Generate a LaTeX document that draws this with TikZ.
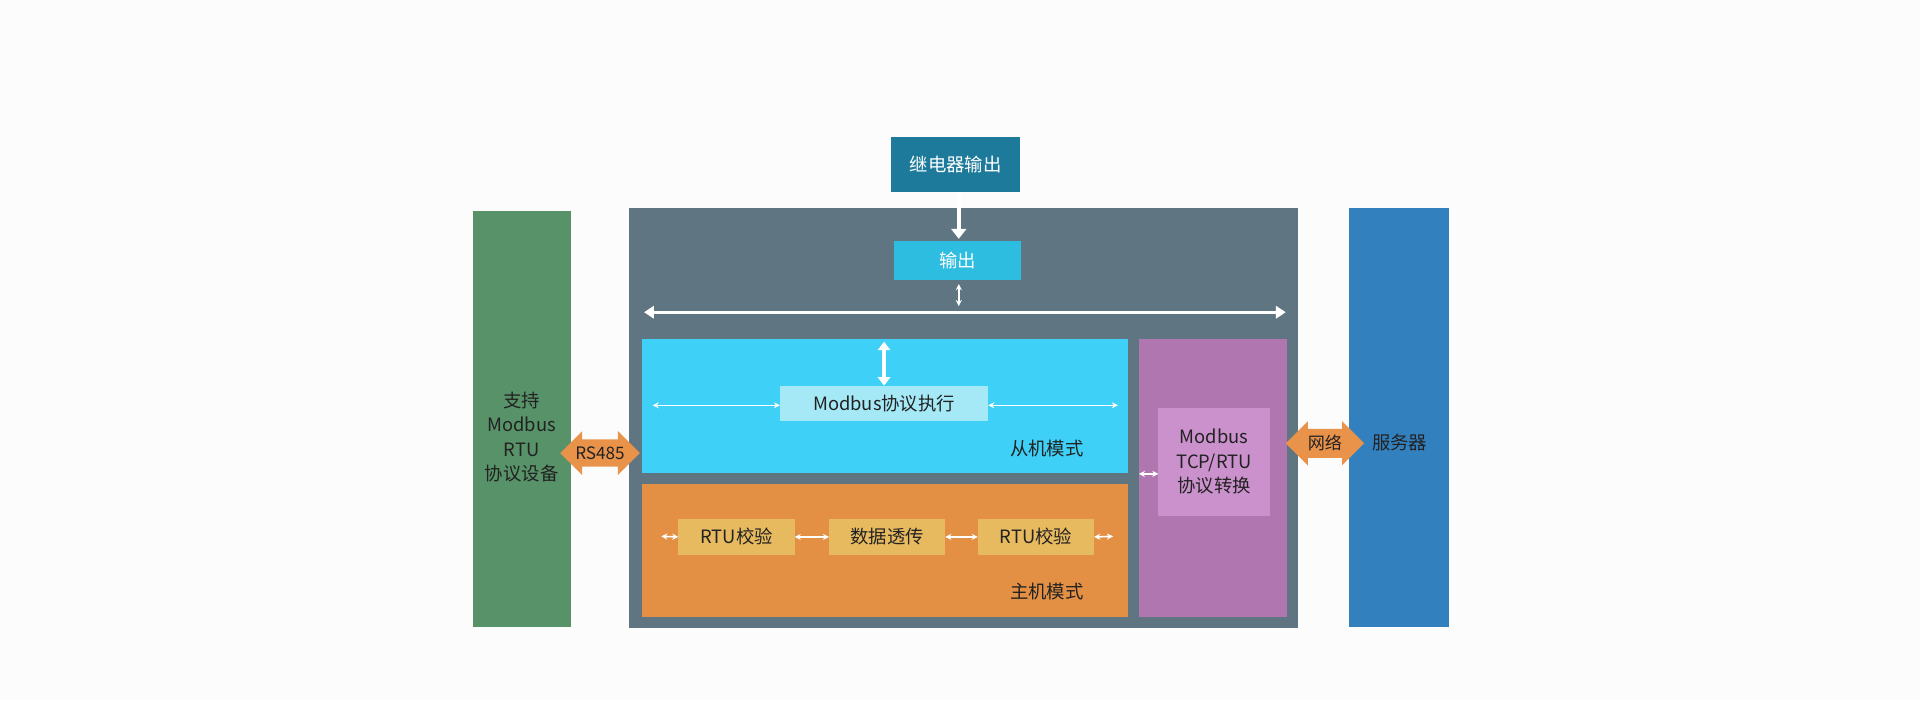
\documentclass[tikz,border=0pt]{standalone}
\usepackage{fontspec}
\setmainfont{Noto Sans CJK SC}
\usetikzlibrary{arrows.meta,shapes.arrows}
\definecolor{bgc}{HTML}{FCFCFC}
\definecolor{relay}{HTML}{1E7A9A}
\definecolor{grey}{HTML}{5F7682}
\definecolor{green}{HTML}{579268}
\definecolor{server}{HTML}{3380BF}
\definecolor{outc}{HTML}{2CBDE0}
\definecolor{slave}{HTML}{3FD0F8}
\definecolor{exec}{HTML}{A6E9F6}
\definecolor{master}{HTML}{E39045}
\definecolor{rtu}{HTML}{E8BA60}
\definecolor{purp}{HTML}{B076B0}
\definecolor{purpi}{HTML}{CB91CC}
\definecolor{fat}{HTML}{E9924A}
\definecolor{txt}{HTML}{222222}
\begin{document}
\begin{tikzpicture}[x=1pt,y=-1pt,
 box/.style={inner sep=0,outer sep=0},
 lbl/.style={font=\fontsize{15}{20}\selectfont,text=txt,align=center},
 wlbl/.style={font=\fontsize{15}{20}\selectfont,text=white,align=center},
 warr/.style={white,line width=1.3pt,{Stealth[length=5pt,width=5pt]}-{Stealth[length=5pt,width=5pt]}},
 fatarr/.style={double arrow,fill=fat,draw=none,minimum height=64pt,minimum width=36pt,double arrow head extend=4pt,inner sep=1pt,font=\fontsize{14}{16}\selectfont,text=txt}]
\fill[bgc] (0,0) rectangle (1568,572);
\useasboundingbox (0,0) rectangle (1568,572);
\fill[grey] (514,170) rectangle (1060,513);
\fill[green] (386,172) rectangle (466,512);
\fill[server] (1102,170) rectangle (1183,512);
\node[lbl] (left) at (426,357) {支持\\Modbus\\RTU\\协议设备};
\node[lbl] (srv) at (1143,361) {服务器};
\node[box,fill=relay,minimum width=105pt,minimum height=45pt,wlbl] (relay) at (780.5,134.5) {继电器输出};
\node[box,fill=outc,minimum width=104pt,minimum height=32pt,wlbl] (out) at (782,213) {输出};
\draw[white,line width=3pt,-{Triangle[length=8pt,width=12pt]}] (relay.south -| 783,0) -- (783,195);
\coordinate (ha) at (783,232); \coordinate (hb) at (783,250);
\draw[warr] (ha) -- (hb);
\coordinate (la) at (526,255); \coordinate (lb) at (1050,255);
\draw[white,line width=2.5pt,{Triangle[length=8pt,width=10pt]}-{Triangle[length=8pt,width=10pt]}] (la) -- (lb);
\fill[slave] (524,277) rectangle (921,386);
\node[box,fill=exec,minimum width=170pt,minimum height=29pt,lbl] (exec) at (722,329.5) {Modbus协议执行};
\coordinate (ea) at (722,279);
\draw[white,line width=3pt,{Triangle[length=7pt,width=10pt]}-{Triangle[length=7pt,width=10pt]}] (ea) -- (exec.north);
\coordinate (s1) at (533,331); \coordinate (s2) at (913,331);
\draw[warr] (s1) -- (exec.west |- s1);
\draw[warr] (exec.east |- s2) -- (s2);
\node[lbl] (slavet) at (855,366) {从机模式};
\fill[master] (524,395) rectangle (921,504);
\node[box,fill=rtu,minimum width=95pt,minimum height=29pt,lbl] (r1) at (601.5,438.5) {RTU校验};
\node[box,fill=rtu,minimum width=95pt,minimum height=29pt,lbl] (dt) at (724.5,438.5) {数据透传};
\node[box,fill=rtu,minimum width=95pt,minimum height=29pt,lbl] (r2) at (846,438.5) {RTU校验};
\coordinate (m1) at (540,438); \coordinate (m2) at (909,438);
\draw[warr] (m1) -- (r1.west);
\draw[warr] (r1.east) -- (dt.west);
\draw[warr] (dt.east) -- (r2.west);
\draw[warr] (r2.east) -- (m2);
\node[lbl] (mastert) at (855,483) {主机模式};
\node[box,fill=purp,minimum width=121pt,minimum height=227pt] (pur) at (990.5,390.5) {};
\node[box,fill=purpi,minimum width=91pt,minimum height=88pt,lbl] (conv) at (991.5,377) {Modbus\\TCP/RTU\\协议转换};
\draw[warr] (pur.west |- 0,387) -- (conv.west |- 0,387);
\node[fatarr] (rs) at (490,370) {RS485};
\node[fatarr] (net) at (1082,362) {网络};
\end{tikzpicture}
\end{document}
